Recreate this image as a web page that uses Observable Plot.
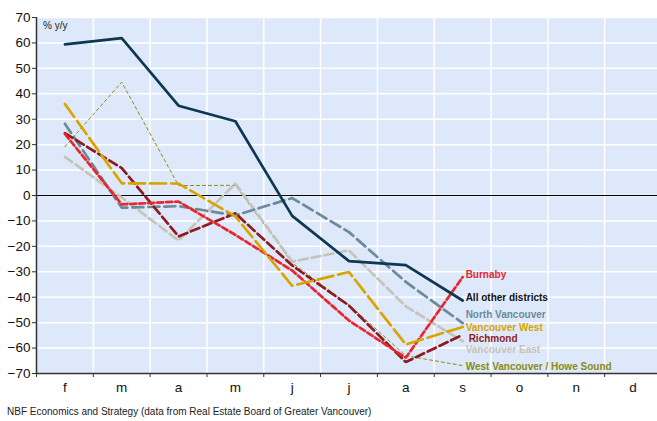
<!DOCTYPE html>
<html><head><meta charset="utf-8">
<script src="https://cdn.jsdelivr.net/npm/d3@7"></script>
<script src="https://cdn.jsdelivr.net/npm/@observablehq/plot@0.6"></script>
<style>
body{margin:0;background:#fff;font-family:"Liberation Sans",Arial,sans-serif;}
#chart{position:relative;width:657px;height:421px;overflow:hidden;}
#chart svg{display:block;}
#unit{position:absolute;left:43px;top:20px;font-size:10px;color:#222;}
#caption{position:absolute;left:7px;top:406px;font-size:10px;color:#222;white-space:nowrap;}
</style></head><body><div id="chart"><div id="unit">% y/y</div><div id="caption">NBF Economics and Strategy (data from Real Estate Board of Greater Vancouver)</div></div>
<script>
const months = ["f","m","a","m","j","j","a","s","o","n","d"];
const yTicks = [-70,-60,-50,-40,-30,-20,-10,0,10,20,30,40,50,60,70];

const allOther      = [59.4, 61.9, 35.3, 29.2, -8.0, -25.8, -27.4, -41.3];
const northVancouver= [28.2, -4.8, -4.2, -7.8, -1.0, -14.4, -34.0, -50.2];
const burnaby       = [24.2, -3.5, -2.4, -15.5, -29.5, -49.2, -63.8, -32.1];
const richmond      = [24.5, 10.8, -16.1, -7.0, -27.5, -43.3, -65.5, -54.8];
const vancouverWest = [36.0, 4.8, 4.7, -8.2, -35.5, -30.1, -58.6, -51.7];
const vancouverEast = [15.2, -0.8, -17.7, 4.7, -26.0, -21.6, -43.6, -57.3];
const westVancouver = [19.2, 44.6, 3.9, 4.0, -26.5, -43.0, -63.0, -66.9];

const labelNames  = ["Burnaby","All other districts","North Vancouver","Vancouver West","Richmond","Vancouver East","West Vancouver / Howe Sound"];
const labelValues = [-31.1, -40.1, -46.8, -52.2, -56.4, -60.8, -67.2];
const labelColors = ["#e8262d","#111111","#6b8a9c","#d9a400","#8e1b1f","#c7c3bb","#8a8a14"];

const toPts = arr => arr.map((v, i) => ({x: i, y: v}));
const series = [
  {vals: westVancouver, stroke: "#8a8a14", width: 1, dash: "3,3"},
  {vals: vancouverEast, stroke: "#c7c3bb", width: 2.7, dash: "9,4"},
  {vals: northVancouver, stroke: "#6b8a9c", width: 2.7, dash: "11,5"},
  {vals: richmond, stroke: "#8e1b1f", width: 2.7, dash: "9,4"},
  {vals: burnaby, stroke: "#e8262d", width: 2.7, dash: "6,3"},
  {vals: vancouverWest, stroke: "#d9a400", width: 2.7, dash: "16,5"},
  {vals: allOther, stroke: "#0e3752", width: 2.7, dash: null}
];
const bounds = d3.range(11).map(i => i - 0.5).concat([10.5]);
const innerBounds = bounds.slice(1, -1);
const labels = labelNames.map((n, i) => ({name: n, v: labelValues[i], c: labelColors[i], dx: n === "Richmond" ? 6 : 3}));

const chart = Plot.plot({
  width: 657,
  height: 400,
  marginTop: 17, marginBottom: 27, marginLeft: 36, marginRight: 0,
  x: {domain: [-0.5, 10.5], range: [36, 661]},
  y: {domain: [-70, 70], range: [373, 17]},
  color: {type: "identity"},
  style: {fontFamily: "'Liberation Sans', Arial, sans-serif", fontSize: "13px", color: "#111", background: "transparent"},
  marks: [
    Plot.frame({fill: "#dde9fa", stroke: null}),
    Plot.gridY(yTicks, {stroke: "white", strokeOpacity: 1, strokeWidth: 1.5}),
    Plot.gridX(innerBounds, {stroke: "white", strokeOpacity: 1, strokeWidth: 1.5}),
    Plot.ruleY([0], {stroke: "#000", strokeWidth: 1.2}),
    ...series.map(s => Plot.line(toPts(s.vals), {x: "x", y: "y", stroke: s.stroke, strokeWidth: s.width, strokeDasharray: s.dash, strokeLinejoin: "miter"})),
    ...labels.map(l => Plot.text([l], {x: () => 7, y: "v", text: "name", fill: l.c, dx: l.dx, textAnchor: "start", fontWeight: "bold", fontSize: 10, lineHeight: 1})),
    Plot.ruleY([-70], {stroke: "#333", strokeWidth: 1.5}),
    Plot.ruleX([-0.5], {stroke: "#333", strokeWidth: 1.5}),
    Plot.axisY(yTicks, {tickSize: 4, tickPadding: 2, stroke: "#333", fontSize: 13.5, label: null}),
    Plot.axisX(bounds, {tickSize: 4, tickFormat: () => "", stroke: "#333", label: null}),
    Plot.axisX(d3.range(11), {tickSize: 0, tickPadding: 9, tickFormat: i => months[i], fontSize: 13.5, label: null})
  ]
});
document.getElementById("chart").prepend(chart);
</script>
</body></html>
